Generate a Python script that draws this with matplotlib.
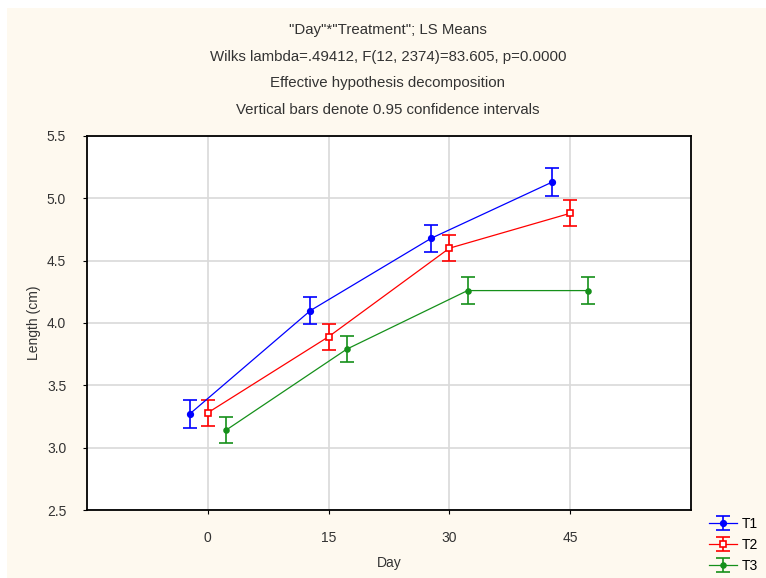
import numpy as np
from matplotlib import pyplot
from matplotlib.patches import Rectangle

days = ["0", "15", "30", "45"]
treatments = ["T1", "T2", "T3"]
t1_mean = [3.27, 4.10, 4.68, 5.13]
t2_mean = [3.28, 3.89, 4.60, 4.88]
t3_mean = [3.14, 3.79, 4.26, 4.26]
t1_ci = [0.11, 0.11, 0.11, 0.11]
t2_ci = [0.105, 0.105, 0.105, 0.105]
t3_ci = [0.105, 0.105, 0.105, 0.105]

titles = [
    '"Day"*"Treatment"; LS Means',
    "Wilks lambda=.49412, F(12, 2374)=83.605, p=0.0000",
    "Effective hypothesis decomposition",
    "Vertical bars denote 0.95 confidence intervals",
]


def main():
    pyplot.rcParams["font.family"] = ["Liberation Sans", "DejaVu Sans"]
    pyplot.rcParams["font.size"] = 10

    fig = pyplot.figure(figsize=(7.66, 5.78), dpi=100, facecolor="white")
    fig.patches.append(
        Rectangle((7 / 766, 0), 1, 1 - 8 / 578, transform=fig.transFigure,
                  facecolor="#fef9ef", edgecolor="none", zorder=-10)
    )
    ax = fig.add_axes([87 / 766, 68 / 578, 604 / 766, 374 / 578])
    ax.set_facecolor("white")

    x = np.arange(1, len(days) + 1)
    series = [
        (t1_mean, t1_ci, "#0000ff", "o", "#0000ff", 4, -0.15),
        (t2_mean, t2_ci, "#ff0000", "s", "white", 5, 0.0),
        (t3_mean, t3_ci, "#15901a", "o", "#15901a", 3.5, 0.15),
    ]
    for name, (mean, ci, colour, mk, mfc, ms, off) in zip(treatments, series):
        ax.errorbar(
            x + off, mean, yerr=ci, color=colour, marker=mk, mfc=mfc, mec=colour,
            ms=ms, mew=1.2, lw=0.9, elinewidth=1.2, capsize=5, capthick=1.2,
            label=name, zorder=3,
        )

    ax.set_xlim(0, 5)
    ax.set_ylim(2.5, 5.5)
    ax.set_xticks(x)
    ax.set_xticklabels(days)
    ax.set_yticks(np.arange(2.5, 5.51, 0.5))
    ax.yaxis.set_major_formatter(pyplot.FormatStrFormatter("%.1f"))
    ax.grid(True, color="#d9d9d9", lw=1.2)
    ax.set_axisbelow(True)
    for sp in ax.spines.values():
        sp.set_linewidth(1.3)
        sp.set_color("black")
    ax.tick_params(length=3, width=0.8, colors="black", labelcolor="#333333", pad=12)
    ax.set_xlabel("Day", labelpad=8, color="#333333")
    ax.set_ylabel("Length (cm)", labelpad=4, color="#333333")

    for i, t in enumerate(titles):
        fig.text(388 / 766, 1 - (30 + i * 26.5) / 578, t, ha="center", va="center",
                 color="#333333", fontsize=10.8)

    ax.legend(loc="upper left", bbox_to_anchor=(709 / 766, 1 - 517 / 578),
              bbox_transform=fig.transFigure, frameon=False, handlelength=2.0,
              handletextpad=0.35, labelspacing=0.5, borderpad=0, borderaxespad=0)

    fig.savefig("out.png", dpi=100, facecolor=fig.get_facecolor())


if __name__ == "__main__":
    main()
